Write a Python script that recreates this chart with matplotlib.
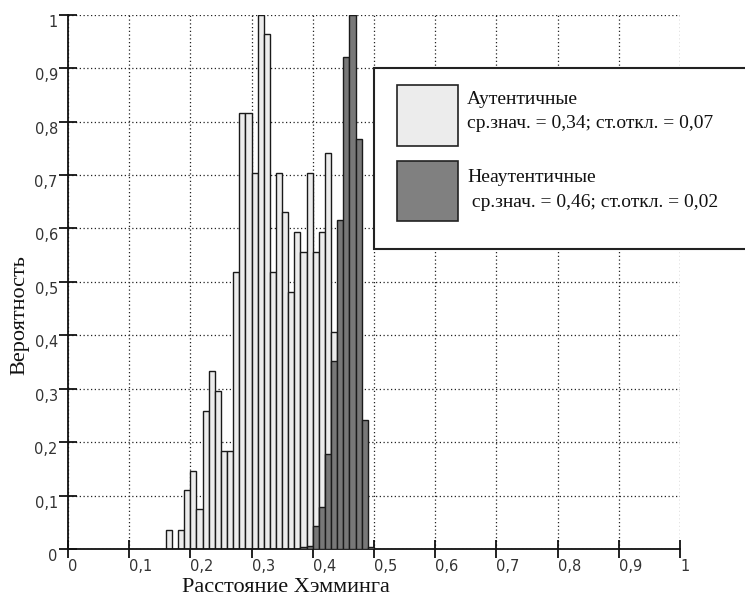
import matplotlib
matplotlib.use('Agg')
import matplotlib.pyplot as plt
from matplotlib.patches import Rectangle

# bin lower edges (width 0.01) and heights
auth_bins = [0.16, 0.17, 0.18, 0.19, 0.20, 0.21, 0.22, 0.23, 0.24, 0.25,
             0.26, 0.27, 0.28, 0.29, 0.30, 0.31, 0.32, 0.33, 0.34, 0.35,
             0.36, 0.37, 0.38, 0.39, 0.40, 0.41, 0.42, 0.43]
auth_vals = [0.036, 0.0, 0.036, 0.111, 0.146, 0.074, 0.258, 0.334, 0.296, 0.183,
             0.183, 0.518, 0.816, 0.816, 0.703, 1.0, 0.963, 0.518, 0.703, 0.631,
             0.481, 0.593, 0.556, 0.703, 0.556, 0.593, 0.741, 0.406]

imp_bins = [0.38, 0.39, 0.40, 0.41, 0.42, 0.43, 0.44, 0.45, 0.46, 0.47, 0.48, 0.49]
imp_vals = [0.003, 0.005, 0.043, 0.078, 0.178, 0.351, 0.615, 0.920, 1.0, 0.767, 0.241, 0.003]

ticks = [0, 0.1, 0.2, 0.3, 0.4, 0.5, 0.6, 0.7, 0.8, 0.9, 1]
tick_labels = ['0', '0,1', '0,2', '0,3', '0,4', '0,5', '0,6', '0,7', '0,8', '0,9', '1']

light = '#ececec'
dark = '#787878'

fig = plt.figure(figsize=(7.45, 5.98), dpi=100)
ax = fig.add_axes([0.0911, 0.0819, 0.8217, 0.8935])

ax.bar(auth_bins, auth_vals, width=0.01, align='edge', color=light,
       edgecolor='#1a1a1a', linewidth=1.0, zorder=2)
ax.bar(imp_bins, imp_vals, width=0.01, align='edge', color=dark,
       edgecolor='#1a1a1a', linewidth=1.0, zorder=3)

ax.set_xlim(0, 1)
ax.set_ylim(0, 1)
ax.set_xticks(ticks)
ax.set_xticklabels(tick_labels)
ax.set_yticks(ticks)
ax.set_yticklabels(tick_labels)

ax.set_axisbelow(True)
ax.grid(True, color='#222222', linestyle=(0, (1, 2)), linewidth=0.9)

for s in ['top', 'right']:
    ax.spines[s].set_visible(False)
for s in ['left', 'bottom']:
    ax.spines[s].set_linewidth(1.3)
    ax.spines[s].set_color('#111111')

ax.tick_params(direction='inout', length=12.5, width=1.3, colors='#111111',
               labelcolor='#333333', labelsize=10.5, pad=1)
for lab in ax.get_xticklabels():
    lab.set_ha('left')
    lab.set_fontfamily('DejaVu Sans')
for lab in ax.get_yticklabels():
    lab.set_va('top')
    lab.set_fontfamily('DejaVu Sans')

ax.text(-0.078, 0.438, 'Вероятность', transform=ax.transAxes, rotation=90,
        ha='center', va='center', fontsize=16, family='Liberation Serif', color='#111111')
ax.text(0.356, -0.072, 'Расстояние Хэмминга', transform=ax.transAxes,
        ha='center', va='center', fontsize=16, family='Liberation Serif', color='#111111')

# legend box
ax.add_patch(Rectangle((0.5, 0.562), 0.7, 0.338, facecolor='white', edgecolor='#222222',
                       linewidth=1.5, clip_on=False, zorder=5))
ax.add_patch(Rectangle((0.538, 0.755), 0.1, 0.113, facecolor=light, edgecolor='#222222',
                       linewidth=1.2, clip_on=False, zorder=6))
ax.add_patch(Rectangle((0.538, 0.614), 0.1, 0.112, facecolor='#808080', edgecolor='#222222',
                       linewidth=1.2, clip_on=False, zorder=6))
txt = dict(ha='left', va='center', fontsize=14, family='Liberation Serif',
           color='#111111', zorder=7, clip_on=False)
ax.text(0.6525, 0.842, 'Аутентичные', **txt)
ax.text(0.6525, 0.797, 'ср.знач. = 0,34; ст.откл. = 0,07', **txt)
ax.text(0.6525, 0.696, 'Неаутентичные', **txt)
ax.text(0.6525, 0.649, ' ср.знач. = 0,46; ст.откл. = 0,02', **txt)

fig.savefig('out.png', dpi=100)
